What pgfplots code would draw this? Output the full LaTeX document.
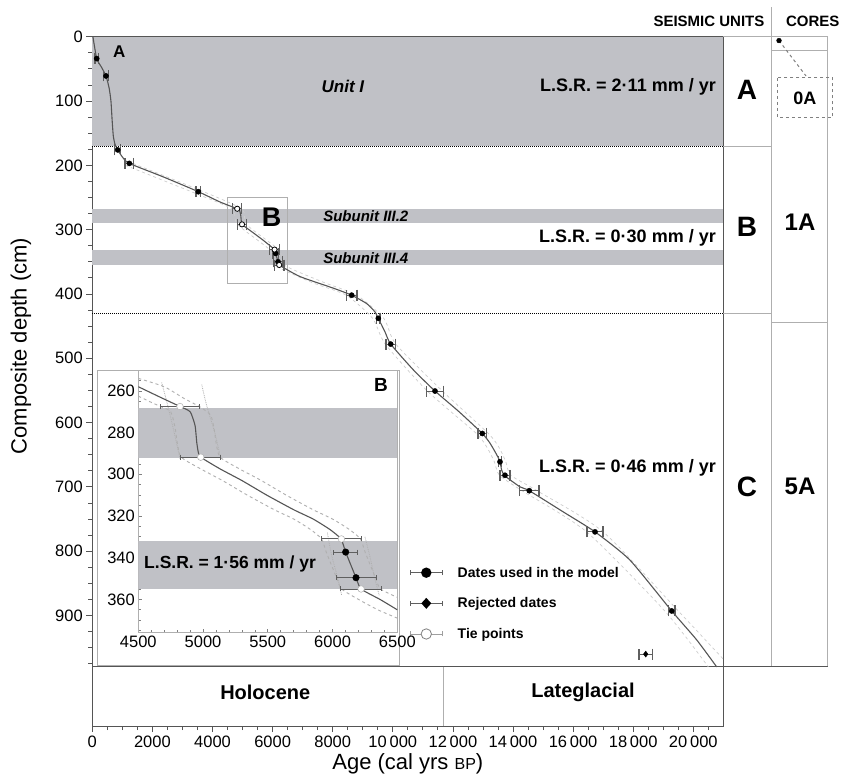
\documentclass[border=0pt]{standalone}
\usepackage{pgfplots}
\pgfplotsset{compat=1.18}
\usepackage{fontspec}
\setmainfont{Liberation Sans}
\definecolor{bandgray}{RGB}{192,193,198}
\definecolor{framegray}{RGB}{85,85,85}
\definecolor{lightline}{RGB}{175,175,175}
\definecolor{envgray}{RGB}{205,205,205}
\definecolor{errgray}{RGB}{95,95,95}
\newcommand{\fs}[1]{\fontsize{#1}{#1}\selectfont}

\pgfplotstableread{
a d e
146 34 60
456 61 80
845 176 95
1232 197 140
3528 241 80
6101 337 90
6181 350 155
8632 402 172
9518 438 60
9930 478 155
11404 551 278
12978 617 140
13567 661 60
13733 682 166
14542 706 320
16729 770 266
19281 893 110
}\useddates
\pgfplotstableread{
a d e
18416 960 220
}\rejdates
\pgfplotstableread{
a d e
4822 267.5 150
4982 291.8 153
6065 331 157
6220 355 160
}\ties

\begin{document}
\begin{tikzpicture}
\begin{axis}[name=main, at={(0,0)}, anchor=south west,
 scale only axis, width=631pt, height=689.3pt,
 xmin=0, xmax=21000, ymin=0, ymax=1072, y dir=reverse,
 clip=false,
 axis line style={framegray, line width=1pt},
 scaled x ticks=false,
 xtick={0,2000,...,20000},
 xticklabels={0,2000,4000,6000,8000,10\,000,12\,000,14\,000,16\,000,18\,000,20\,000},
 minor xtick={500,1000,...,20500},
 ytick={0,100,...,900},
 minor ytick={25,50,...,975},
 tick pos=left, tick align=outside,
 major tick length=6pt, minor tick length=4pt,
 tick style={framegray, line width=0.8pt},
 tick label style={font=\fs{16.5}},
 /pgf/number format/assume math mode=true,
 legend cell align=left,
 legend style={at={(axis cs:10560,821)}, anchor=north west, draw opacity=0, fill opacity=0, text opacity=1,
   font=\fs{14}\bfseries, row sep=15pt, column sep=13pt, inner sep=0pt},
]
% bounding box
\path (axis cs:-3072,-57.1) rectangle (axis cs:25048,1149.8);
% bands
\fill[bandgray] (axis cs:0,0) rectangle (axis cs:21000,170);
\fill[bandgray] (axis cs:0,268) rectangle (axis cs:21000,290);
\fill[bandgray] (axis cs:0,332) rectangle (axis cs:21000,355);
\draw[black, densely dotted, line width=1pt] (axis cs:0,170) -- (axis cs:21000,170);
\draw[black, densely dotted, line width=1pt] (axis cs:0,430) -- (axis cs:21000,430);
% box B
\draw[lightline, line width=0.7pt] (axis cs:4500,250) rectangle (axis cs:6500,383);
% holocene band
\draw[framegray, line width=1pt] (axis cs:0,980) -- (axis cs:21000,980);
\draw[lightline, line width=0.8pt] (axis cs:11700,980) -- (axis cs:11700,1072);
\node[font=\fs{20}\bfseries] at (axis cs:5756,1019) {Holocene};
\node[font=\fs{20}\bfseries] at (axis cs:16330,1019) {Lateglacial};
% envelopes
\addplot[envgray, dashed, line width=0.7pt, smooth, tension=0.4, forget plot] coordinates {
(1100,200) (3400,243) (4650,268) (4830,292) (5920,332) (6060,355) (7300,382) (8450,402) (9330,438) (9750,478) (11150,551) (12780,617) (13150,640) (13380,661) (13550,682) (14300,706) (16450,770) (19050,893) (20500,980)};
\addplot[envgray, dashed, line width=0.7pt, smooth, tension=0.4, forget plot] coordinates {
(1350,197) (3650,240) (4980,268) (5130,292) (6220,332) (6380,355) (7700,382) (8800,402) (9700,438) (10100,478) (11650,551) (13180,617) (13550,640) (13760,661) (13930,682) (14800,706) (17000,770) (19500,893) (21000,968)};
% model
\addplot[framegray, line width=1.1pt, smooth, tension=0.35, forget plot] coordinates {
(20,0) (146,34) (300,47) (456,61) (560,80) (620,100) (660,130) (700,155) (760,168) (845,176) (1000,187) (1232,197) (2363,218) (3528,241) (4250,257) (4822,267.5) (4900,270) (4940,278) (4960,288) (4982,292) (5300,303) (5700,317) (6065,331) (6101,337) (6181,350) (6220,355) (6912,373) (8020,391) (8632,402) (9131,415) (9408,428) (9518,438) (9740,459) (9930,478) (10682,518) (11404,551) (12200,583) (12978,617) (13233,632) (13457,650) (13567,661) (13623,674) (13733,683) (14233,700) (14542,706) (15674,739) (16729,770) (17893,814) (19281,893) (20113,938) (20778,980)};
% dates
\addplot[only marks, mark=*, mark size=2.6pt, black, forget plot,
 error bars/.cd, x dir=both, x explicit, error mark=|,
 error bar style={errgray, line width=0.9pt},
 error mark options={errgray, line width=1.3pt, mark size=5.5pt}]
 table[x=a, y=d, x error=e] {\useddates};
\addplot[only marks, mark=diamond*, mark size=3pt, black, forget plot,
 error bars/.cd, x dir=both, x explicit, error mark=|,
 error bar style={errgray, line width=0.9pt},
 error mark options={errgray, line width=1.3pt, mark size=5.5pt}]
 table[x=a, y=d, x error=e] {\rejdates};
\addplot[only marks, mark=*, mark size=2.6pt, mark options={fill=white, draw=black, line width=0.8pt}, forget plot,
 error bars/.cd, x dir=both, x explicit, error mark=|,
 error bar style={errgray, line width=0.9pt},
 error mark options={errgray, line width=1.3pt, mark size=5.5pt}]
 table[x=a, y=d, x error=e] {\ties};
% texts
\node[font=\fs{17}\bfseries] at (axis cs:898,23) {A};
\node[font=\fs{17}\bfseries\itshape] at (axis cs:8340,78) {Unit I};
\node[font=\fs{15}\bfseries\itshape] at (axis cs:9100,279) {Subunit III.2};
\node[font=\fs{15}\bfseries\itshape] at (axis cs:9100,344) {Subunit III.4};
\node[font=\fs{27}\bfseries] at (axis cs:5970,280) {B};
\node[font=\fs{18}\bfseries, anchor=east, inner sep=0pt] at (axis cs:20755,78) {L.S.R. = 2·11 mm / yr};
\node[font=\fs{18}\bfseries, anchor=east, inner sep=0pt] at (axis cs:20755,313) {L.S.R. = 0·30 mm / yr};
\node[font=\fs{18}\bfseries, anchor=east, inner sep=0pt] at (axis cs:20755,671) {L.S.R. = 0·46 mm / yr};
% inset white box
\filldraw[fill=white, draw=lightline, line width=0.8pt] (axis cs:156,519) rectangle (axis cs:10223,977);
% labels
\node[rotate=90, font=\fs{22}] at (axis cs:-2373,481) {Composite depth (cm)};
\node[anchor=base, font=\fs{22}] at (axis cs:10500,1140) {Age (cal yrs {\fs{16}BP})};
% seismic units and cores columns
\draw[lightline, line width=0.8pt] (axis cs:21000,0) -- (axis cs:24474,0);
\draw[lightline, line width=0.8pt] (axis cs:22609,-46) -- (axis cs:22609,980);
\draw[lightline, line width=0.8pt] (axis cs:24474,0) -- (axis cs:24474,980);
\draw[framegray, line width=1pt] (axis cs:21000,980) -- (axis cs:24474,980);
\draw[lightline, line width=0.8pt] (axis cs:21000,170) -- (axis cs:22609,170);
\draw[lightline, line width=0.8pt] (axis cs:21000,430) -- (axis cs:22609,430);
\draw[lightline, line width=0.8pt] (axis cs:22609,21) -- (axis cs:24474,21);
\draw[lightline, line width=0.8pt] (axis cs:22609,445) -- (axis cs:24474,445);
\addplot[only marks, mark=*, mark size=2.4pt, black, forget plot] coordinates {(22852,6)};
\draw[gray, dashed, line width=1pt] (axis cs:22852,6) -- (axis cs:23750,61);
\draw[gray, dashed, line width=1pt] (axis cs:22785,64) rectangle (axis cs:24647,125);
\node[font=\fs{18}\bfseries] at (axis cs:23716,95) {0A};
\node[font=\fs{24}\bfseries] at (axis cs:23551,288) {1A};
\node[font=\fs{24}\bfseries] at (axis cs:23551,700) {5A};
\node[font=\fs{28}\bfseries] at (axis cs:21790,83) {A};
\node[font=\fs{28}\bfseries] at (axis cs:21790,296) {B};
\node[font=\fs{28}\bfseries] at (axis cs:21790,700) {C};
\node[font=\fs{15}\bfseries, anchor=base] at (axis cs:20520,-16.6) {SEISMIC UNITS};
\node[font=\fs{15}\bfseries, anchor=base] at (axis cs:23973,-16.6) {CORES};
% legend
\addlegendimage{legend image code/.code={
 \draw[draw=errgray, draw opacity=1, line width=0.9pt] (0pt,0pt) -- (32pt,0pt);
 \draw[draw=errgray, draw opacity=1, line width=0.9pt] (0pt,-2.5pt) -- (0pt,2.5pt) (32pt,-2.5pt) -- (32pt,2.5pt);
 \fill[fill=black, fill opacity=1] (16pt,0pt) circle (5.2pt);}}
\addlegendentry{Dates used in the model}
\addlegendimage{legend image code/.code={
 \draw[draw=errgray, draw opacity=1, line width=0.9pt] (0pt,0pt) -- (32pt,0pt);
 \draw[draw=errgray, draw opacity=1, line width=0.9pt] (0pt,-2.5pt) -- (0pt,2.5pt) (32pt,-2.5pt) -- (32pt,2.5pt);
 \fill[fill=black, fill opacity=1] (16pt,5.5pt) -- (21pt,0pt) -- (16pt,-5.5pt) -- (11pt,0pt) -- cycle;}}
\addlegendentry{Rejected dates}
\addlegendimage{legend image code/.code={
 \draw[draw=errgray!60, draw opacity=1, line width=0.9pt] (0pt,0pt) -- (32pt,0pt);
 \draw[draw=errgray!60, draw opacity=1, line width=0.9pt] (0pt,-2.5pt) -- (0pt,2.5pt) (32pt,-2.5pt) -- (32pt,2.5pt);
 \filldraw[fill=white, draw=gray, fill opacity=1, draw opacity=1, line width=0.8pt] (16pt,0pt) circle (5.2pt);}}
\addlegendentry{Tie points}
\end{axis}

\begin{axis}[at={(main.south west)}, anchor=south west, xshift=46pt, yshift=93.3pt,
 scale only axis, width=259pt, height=262.7pt,
 xmin=4500, xmax=6500, ymin=250, ymax=376, y dir=reverse,
 axis background/.style={fill=white},
 axis line style={lightline, line width=0.8pt},
 scaled x ticks=false,
 xtick={4500,5000,...,6500}, ytick={260,280,...,360},
 minor xtick={4500,4600,...,6500}, minor ytick={250,255,...,375},
 tick pos=left, tick align=inside,
 major tick length=4pt, minor tick length=3pt,
 tick style={gray, line width=0.7pt},
 tick label style={font=\fs{16.5}},
 /pgf/number format/assume math mode=true,
 /pgf/number format/1000 sep={},
]
\fill[bandgray] (axis cs:4500,268) rectangle (axis cs:6500,292);
\fill[bandgray] (axis cs:4500,332) rectangle (axis cs:6500,355);
\addplot[lightline, densely dotted, line width=0.8pt, smooth] coordinates {(4680,256) (4719,265) (4770,278) (4822,292.6)};
\addplot[lightline, densely dotted, line width=0.8pt, smooth] coordinates {(4990,257) (5028,267) (5090,280) (5131,291)};
\addplot[lightline, densely dotted, line width=0.8pt, smooth] coordinates {(5960,328) (5990,338) (6040,350) (6070,358)};
\addplot[lightline, densely dotted, line width=0.8pt, smooth] coordinates {(6250,330) (6290,340) (6330,351) (6360,358)};
\addplot[lightline, dashed, line width=0.9pt, smooth, tension=0.4] coordinates {
(4500,262.5) (4600,265.5) (4672,267.5) (4750,270) (4785,278) (4801,285) (4832,291.8) (4981,297.4) (5150,303) (5342,310) (5550,317) (5701,321.5) (5830,326.5) (5915,331) (5951,337.3) (6031,349.6) (6070,355) (6200,360) (6350,365) (6500,369)};
\addplot[lightline, dashed, line width=0.9pt, smooth, tension=0.4] coordinates {
(4500,254) (4700,258) (4850,263.5) (4972,267.5) (5030,270) (5062,272) (5085,278) (5101,285) (5132,291.8) (5281,297.4) (5450,303) (5642,310) (5850,317) (6001,321.5) (6130,326.5) (6215,331) (6251,337.3) (6331,349.6) (6370,355) (6500,359)};
\addplot[framegray, line width=1.1pt, smooth, tension=0.35] coordinates {
(4500,258) (4668,263) (4822,267.5) (4900,270) (4938,276.6) (4951,284.6) (4963,289.4) (4982,291.8) (5131,297.4) (5300,303) (5492,310) (5700,317) (5851,321.5) (5980,326.5) (6065,331) (6101,337.3) (6181,349.6) (6220,355) (6366,360) (6500,365)};
\addplot[only marks, mark=*, mark size=3.3pt, black,
 error bars/.cd, x dir=both, x explicit, error mark=|,
 error bar style={errgray, line width=0.9pt},
 error mark options={errgray, line width=0.9pt, mark size=2.5pt}]
 table[x=a, y=d, x error=e] {
a d e
6101 337.3 92
6181 349.6 155
};
\addplot[only marks, mark=*, mark size=3.3pt, mark options={fill=white, draw=lightline, line width=0.5pt}, 
 error bars/.cd, x dir=both, x explicit, error mark=|,
 error bar style={errgray, line width=0.9pt},
 error mark options={errgray, line width=0.9pt, mark size=2.5pt}]
 table[x=a, y=d, x error=e] {
a d e
4822 267.5 150
4982 291.8 153
6068 331 157
6220 355 160
};
\node[font=\fs{19}\bfseries] at (axis cs:6374,257) {B};
\node[font=\fs{17.5}\bfseries, anchor=west, inner sep=0pt] at (axis cs:4544,343) {L.S.R. = 1·56 mm / yr};
\end{axis}
\end{tikzpicture}
\end{document}
